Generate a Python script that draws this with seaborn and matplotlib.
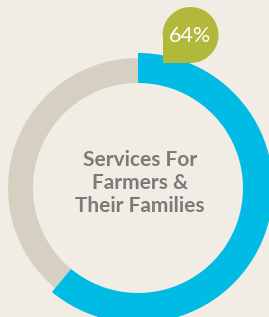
import matplotlib
matplotlib.use("Agg")
import matplotlib.pyplot as plt
import seaborn as sns
from matplotlib.patches import Wedge, Rectangle

# %% Data
segments = ["Services", "Other"]
share = [61, 39]          # arc as drawn in the reference
badge_label = "64%"
center_lines = ["Services For", "Farmers &", "Their Families"]

bg = "#f2ede4"
blue = "#00bbe4"
ring_grey = "#d6d0c2"
green = "#b2b83c"
text_grey = "#7a7a7a"

sns.set_theme(style="white")
plt.rcParams["font.family"] = ["Lato", "DejaVu Sans"]

W, H = 269, 317
fig = plt.figure(figsize=(W / 100, H / 100), dpi=100, facecolor=bg)
ax = fig.add_axes([0, 0, 1, 1])
ax.set_facecolor(bg)

cx, cy = 138, H - 188

# grey background ring (thinner), then blue arc (thicker) on top
ax.pie(share, radius=130, center=(cx, cy), startangle=90, counterclock=False,
       colors=["none", ring_grey], wedgeprops=dict(width=25, linewidth=0))
ax.pie(share, radius=135, center=(cx, cy), startangle=90, counterclock=False,
       colors=[blue, "none"], wedgeprops=dict(width=30, linewidth=0))

# green badge: circle with a square bottom-left corner
bx, by, br = 190.5, H - 35, 28
ax.add_patch(Wedge((bx, by), br, -90, 180, color=green, lw=0, zorder=5))
ax.add_patch(Rectangle((bx - br, by - br), br, br, color=green, lw=0, zorder=5))
ax.text(bx, by - 1.5, badge_label, color="white", fontsize=15.5, ha="center",
        va="center", zorder=6)

for i, line in enumerate(center_lines):
    ax.text(140, H - (160 + 23 * i), line, color=text_grey, fontsize=15,
            fontweight="bold", ha="center", va="center")

ax.set_xlim(0, W)
ax.set_ylim(0, H)
ax.set_aspect("auto")
ax.axis("off")

fig.savefig("out.png", dpi=100, facecolor=bg)
